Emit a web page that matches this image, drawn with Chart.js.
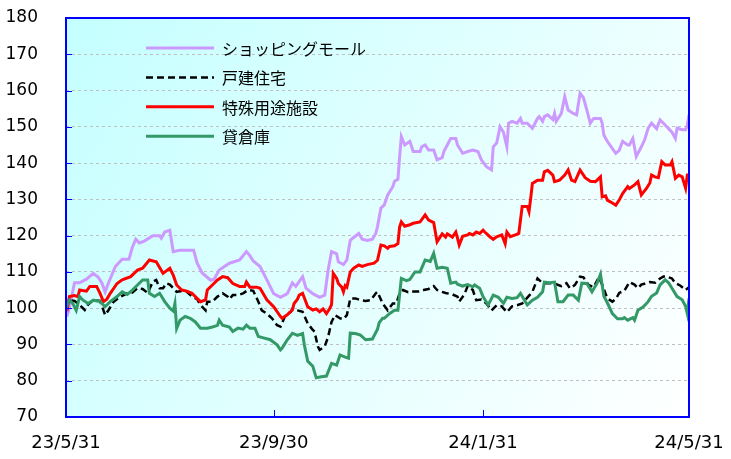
<!DOCTYPE html>
<html lang="ja">
<head>
  <meta charset="UTF-8" />
  <title>用途別指数</title>
  <script src="https://cdn.jsdelivr.net/npm/chart.js"></script>
  <style>
    body { margin: 0; background: #fff; }
    #wrap { width: 731px; height: 459px; }
  </style>
</head>
<body>
  <div id="wrap"><canvas id="chart" width="731" height="459"></canvas></div>
  <script>
    // x = days since 2023/5/31
    const xTickDays = [0, 122, 245, 366];
    const xTickLabels = ['23/5/31', '23/9/30', '24/1/31', '24/5/31'];
    const seriesNames = ['ショッピングモール', '戸建住宅', '特殊用途施設', '貸倉庫'];

    // [day, index]
    const shopping = [[0,99.5],[1,98.5],[2,100],[5,107],[8,107],[12,108],[16,109.6],[19,108.5],[21,107],[23,104.5],[25,107],[29,111.5],[33,113.5],[37,113.5],[39,116.8],[41,119],[43,118],[46,118.5],[51,120],[55,120],[56,119.3],[58,121],[61,121.5],[63,115.6],[67,116],[75,116],[77,112.5],[80,109.7],[85,107.7],[87,108],[90,110.5],[96,112.4],[102,113.3],[106,115.6],[108,114.5],[110,113],[114,111.5],[118,107.8],[122,104],[126,103],[130,104],[133,107],[135,106],[139,108.7],[141,105.5],[145,104],[149,103],[152,103.6],[154,110.5],[156,115.6],[159,115],[160,112.8],[163,112],[165,113.3],[167,118.7],[169,119.5],[172,120.6],[174,119],[177,118.7],[180,119],[182,120.6],[183,122.5],[185,127.6],[187,128.5],[189,131.2],[192,133.5],[193,135],[195,135.5],[196,141.8],[197,147.3],[199,145],[202,146],[204,143.2],[208,143.2],[209,144.5],[211,145],[213,143.6],[216,143.6],[218,140.9],[221,141.5],[222,143.2],[224,145],[226,146.8],[229,146.8],[230,145],[233,142.7],[236,143.2],[239,143.6],[242,143.2],[244,140.9],[247,139],[250,138.1],[251,144.5],[253,145.5],[255,150],[257,148.5],[259,144.5],[260,151],[262,151.5],[265,151],[267,152.3],[268,151],[271,151],[274,149.6],[277,152.3],[278,152.8],[280,151.5],[281,152.8],[283,153.3],[286,152],[287,153.7],[288,151.5],[291,153.7],[293,158.3],[295,154.6],[298,153.7],[300,153.3],[302,159.2],[304,158],[306,154.6],[308,151],[310,152.3],[314,152.3],[315,151],[316,147.7],[318,146],[321,144],[323,142.7],[325,143.5],[327,146],[330,145],[331,145],[333,146.8],[335,141.8],[338,144.5],[340,146.5],[342,149.6],[344,151],[347,149.5],[349,151.9],[351,151],[354,149.5],[356,148.5],[358,146.8],[359,149.6],[362,149.2],[364,149.2],[365,150.5],[366,153.3]];

    const detached = [[0,99.9],[2,102.2],[5,102],[8,100.9],[11,99.5],[13,101],[16,102.2],[20,102],[22,99.4],[23,98.1],[25,99.5],[28,101.8],[32,103.2],[36,104.1],[39,104.3],[42,105.5],[45,105.3],[48,104.2],[51,107.3],[53,107.8],[55,105.5],[57,105.5],[59,106.9],[61,106.5],[63,105.5],[65,104.5],[68,104.7],[71,104.5],[74,103.2],[77,102.5],[79,100.9],[82,99.4],[83,101.8],[86,101.8],[89,103.2],[92,104.1],[95,103.2],[96,102.5],[98,103.6],[101,103.6],[104,104.1],[107,105],[110,104.8],[113,101.8],[115,99.4],[118,98.5],[121,97.2],[124,95.3],[126,94.9],[129,98.1],[132,99],[133,99.8],[136,99.4],[139,99],[142,95.8],[145,94],[146,93.5],[148,89.4],[149,88.5],[152,89.5],[154,92.1],[156,96.2],[158,98.1],[161,97.2],[163,97],[165,98.1],[167,102.7],[170,102.7],[173,102.2],[176,102],[179,102.2],[182,104.1],[183,104.5],[186,101.3],[189,99.4],[192,101.3],[194,101.3],[196,104.1],[198,105],[201,104.4],[204,104.6],[207,104.6],[210,105],[213,105.3],[216,106.1],[218,105],[221,104.5],[223,104.2],[227,103.8],[230,103.2],[231,101.8],[234,103.8],[236,106.1],[239,105],[241,102.2],[244,102.4],[247,101.3],[250,99.4],[253,100.8],[256,100.5],[259,98.9],[262,100.5],[265,100.8],[268,101.3],[271,102.9],[274,104.5],[277,108.2],[280,106.9],[283,106.9],[286,106.9],[288,106.6],[291,106.1],[294,106.9],[296,105.5],[299,106.4],[302,108.7],[304,108.5],[307,106.4],[310,105.8],[313,108.5],[315,106.5],[318,102.7],[321,101.8],[323,102.5],[325,104.2],[328,104.8],[331,107.2],[334,106.5],[336,105.5],[338,106.5],[343,107.2],[346,107],[349,108.2],[351,108.7],[353,108.7],[356,108.2],[358,106.9],[361,106.2],[364,105],[366,105.8]];

    const special = [[0,102],[1,100.5],[2,103.2],[5,103.5],[7,103.2],[8,105],[12,104.7],[14,106],[18,106],[20,104.1],[22,101.8],[24,102.5],[26,104.1],[30,106.8],[33,107.8],[38,108.7],[42,110.5],[45,111],[49,113.3],[53,112.8],[57,109.6],[61,111],[63,109.1],[65,106.4],[68,105],[71,104.7],[74,104.1],[77,102.7],[79,101.8],[82,102.3],[83,105],[86,106.4],[89,107.8],[92,108.7],[95,108.4],[98,106.8],[102,106],[105,106],[106,107.2],[108,105.8],[112,105.8],[114,105.5],[118,102.3],[122,100.4],[126,97.7],[127,97.2],[130,98.2],[133,99.5],[134,101.3],[136,102.5],[137,103.6],[139,104.1],[142,100.4],[145,99.5],[147,99.8],[149,99],[151,99.8],[153,98.5],[155,100],[156,101],[157,109.6],[159,108.2],[160,106.8],[162,105.8],[163,104.5],[164,106.2],[165,105.8],[167,110],[169,111],[172,111.9],[174,111.5],[177,112],[181,112.4],[183,113.2],[185,117.4],[187,117.2],[189,116.5],[190,117],[193,117.2],[195,117.8],[196,122.4],[197,123.8],[199,122.6],[202,123],[204,123.4],[208,123.8],[211,125.7],[213,124.3],[216,123.6],[218,118.3],[221,120.5],[223,119.6],[224,120.5],[227,119.6],[229,121],[230,119.3],[231,117.4],[233,119.8],[236,120.2],[237,120.6],[239,120.2],[241,121],[243,120.6],[245,121.5],[246,121],[249,119.7],[251,119],[253,119.7],[256,120.2],[258,117.8],[259,121],[261,119.7],[264,120.2],[266,120.6],[268,128],[271,128],[272,126.6],[273,130.3],[274,134.4],[277,135.3],[280,135.3],[281,137.6],[283,138],[286,136.7],[287,134.9],[290,135.3],[293,136.7],[295,138.1],[297,135.3],[299,134.9],[302,138.1],[305,136],[308,135],[311,134.9],[312,135.3],[314,136.2],[315,130.7],[317,131],[318,129.8],[321,129],[323,128.4],[325,129.8],[327,131.6],[330,133.5],[331,133],[334,134],[336,134.9],[338,131.2],[341,133],[343,134.5],[344,136.7],[346,136.2],[348,136],[350,140.4],[352,139.5],[355,139.5],[356,140.4],[358,135.8],[360,136.7],[362,136.2],[364,133.1],[365,136.7],[366,136.7]];

    const warehouse = [[0,100],[2,102.2],[4,101.3],[6,99.4],[8,103.2],[10,102.2],[13,101.3],[16,102.2],[20,101.8],[23,100.4],[26,101.8],[30,103.2],[33,104.5],[36,103.8],[39,105],[42,106.4],[45,107.8],[48,107.8],[49,104.1],[52,103.2],[55,104.1],[58,101.8],[61,100],[63,99.2],[64,101.3],[65,94.4],[67,96.7],[70,97.7],[73,97.2],[76,96.2],[79,94.5],[83,94.5],[86,94.8],[89,95.3],[90,96.7],[92,95.3],[96,94.8],[98,93.6],[101,94.5],[104,94.2],[106,95.3],[108,94.5],[111,94.5],[113,92.2],[116,91.8],[120,91.3],[124,89.9],[126,88.5],[127,89],[130,91.3],[133,93.1],[136,92.5],[139,93],[140,89.9],[142,85.4],[145,84],[147,80.8],[150,81.1],[153,81.3],[156,84.8],[159,84.3],[161,87.1],[164,86.5],[166,86.2],[167,93.1],[170,93],[173,92.6],[176,91.3],[180,91.5],[183,94.2],[184,96],[186,97.2],[187,97.2],[190,98.5],[193,99.4],[195,99.4],[197,108.2],[200,107.6],[202,107.9],[205,110],[208,110],[211,113.3],[214,112.9],[216,115.1],[218,111],[221,111.3],[224,111],[226,106.9],[229,107.2],[230,106.6],[233,106.1],[236,106.5],[239,105.9],[240,106.4],[243,105.5],[245,103.2],[248,100.9],[251,103.6],[254,103],[257,101.3],[259,103],[262,102.7],[265,102.9],[267,104.1],[268,103.3],[271,100.9],[274,102.2],[277,103],[280,104.5],[281,107.2],[284,107],[287,107.2],[289,101.8],[292,101.8],[295,103.6],[298,103.6],[301,102.2],[303,106.9],[306,106.8],[309,104.5],[312,106.9],[314,109.4],[316,103.3],[318,101.5],[321,98.5],[324,97.1],[327,97.1],[328,97.4],[330,96.7],[333,97.4],[334,96.7],[336,99.4],[339,100.3],[342,101.8],[344,103.3],[347,104.2],[349,106.4],[352,107.8],[354,107],[356,105.5],[359,103.2],[362,102.3],[364,100.5],[365,98.5],[366,102.7]];

    const toPoints = arr => arr.map(p => ({ x: p[0], y: p[1] }));

    // Gradient background of the plot area
    const plotBackground = {
      id: 'plotBackground',
      beforeDraw(chart) {
        const { ctx, chartArea: a } = chart;
        const g = ctx.createLinearGradient(a.left, a.top, a.right, a.bottom);
        g.addColorStop(0, '#c4ffff');
        g.addColorStop(1, '#ffffff');
        ctx.save();
        ctx.fillStyle = g;
        ctx.fillRect(a.left, a.top, a.width, a.height);
        ctx.restore();
      }
    };

    // Blue frame with inward tick marks
    const plotFrame = {
      id: 'plotFrame',
      afterDatasetsDraw(chart) {
        const { ctx, chartArea: a, scales } = chart;
        ctx.save();
        ctx.strokeStyle = '#0000ff';
        ctx.lineWidth = 2;
        ctx.strokeRect(a.left, a.top, a.width, a.height);
        ctx.lineWidth = 1;
        ctx.beginPath();
        scales.y.ticks.forEach(t => {
          const py = Math.round(scales.y.getPixelForValue(t.value)) + 0.5;
          ctx.moveTo(a.left, py);
          ctx.lineTo(a.left + 6, py);
        });
        scales.x.ticks.forEach(t => {
          const px = Math.round(scales.x.getPixelForValue(t.value)) + 0.5;
          ctx.moveTo(px, a.bottom);
          ctx.lineTo(px, a.bottom - 7);
        });
        ctx.stroke();
        ctx.restore();
      }
    };

    // Legend inside the plot, upper left
    const innerLegend = {
      id: 'innerLegend',
      afterDatasetsDraw(chart) {
        const { ctx, chartArea: a } = chart;
        ctx.save();
        ctx.font = '16px "Noto Sans CJK JP"';
        ctx.textBaseline = 'middle';
        ctx.fillStyle = '#000';
        chart.data.datasets.forEach((ds, i) => {
          const y = a.top + 30 + i * 29.4;
          ctx.strokeStyle = ds.borderColor;
          ctx.lineWidth = ds.borderWidth;
          ctx.setLineDash(ds.borderDash || []);
          ctx.beginPath();
          ctx.moveTo(a.left + 80, y);
          ctx.lineTo(a.left + 148, y);
          ctx.stroke();
          ctx.fillText(ds.label, a.left + 156, y + 1);
        });
        ctx.restore();
      }
    };

    new Chart(document.getElementById('chart'), {
      type: 'line',
      data: {
        datasets: [
          { label: seriesNames[0], data: toPoints(shopping), borderColor: '#cc99ff', borderWidth: 3, order: 4 },
          { label: seriesNames[1], data: toPoints(detached), borderColor: '#000000', borderWidth: 2.5, borderDash: [7, 4], order: 3 },
          { label: seriesNames[2], data: toPoints(special), borderColor: '#ff0000', borderWidth: 3, order: 2 },
          { label: seriesNames[3], data: toPoints(warehouse), borderColor: '#339966', borderWidth: 3, order: 1 }
        ]
      },
      options: {
        responsive: false,
        animation: false,
        layout: { padding: { top: 18, right: 42, left: 0, bottom: 0 } },
        elements: { point: { radius: 0 }, line: { tension: 0 } },
        plugins: { legend: { display: false }, tooltip: { enabled: false } },
        scales: {
          x: {
            type: 'linear',
            min: 0,
            max: 366,
            afterBuildTicks: s => { s.ticks = xTickDays.map(v => ({ value: v })); },
            afterFit: s => { s.height = 42; s.paddingLeft = 0; s.paddingRight = 0; },
            grid: { display: false, drawTicks: false },
            border: { display: false },
            ticks: {
              autoSkip: false,
              maxRotation: 0,
              padding: 16,
              color: '#000',
              font: { family: 'DejaVu Sans', size: 18 },
              callback: v => xTickLabels[xTickDays.indexOf(v)]
            }
          },
          y: {
            min: 70,
            max: 180,
            afterFit: s => { s.width = 66; s.paddingTop = 0; s.paddingBottom = 0; },
            grid: {
              drawTicks: false,
              color: c => (c.tick.value === 70 || c.tick.value === 180) ? 'rgba(0,0,0,0)' : '#c0c0c0'
            },
            border: { display: false, dash: [3, 3] },
            ticks: {
              stepSize: 10,
              padding: 28,
              color: '#000',
              font: { family: 'DejaVu Sans', size: 17 }
            }
          }
        }
      },
      plugins: [plotBackground, plotFrame, innerLegend]
    });
  </script>
</body>
</html>
